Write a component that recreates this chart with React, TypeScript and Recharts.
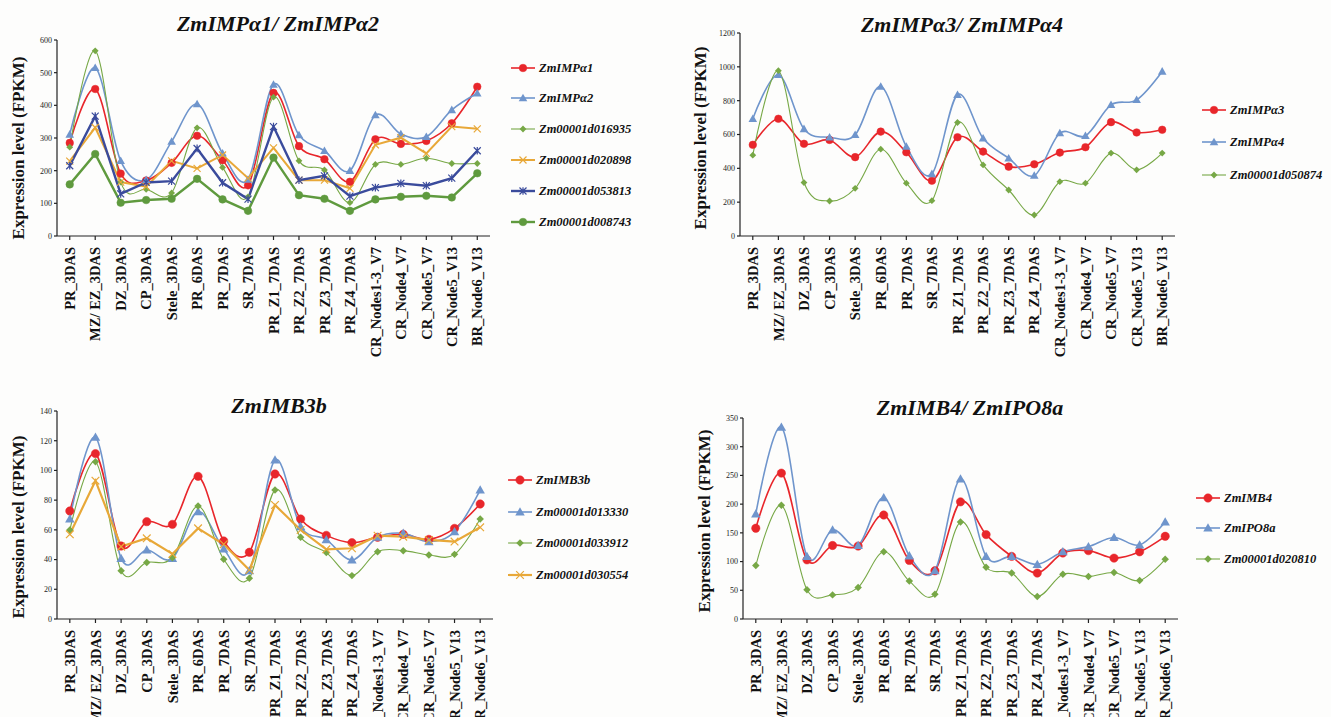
import React from "react";
import { CartesianGrid, Line, LineChart, XAxis, YAxis } from "recharts";

const CATEGORIES = [
  "PR_3DAS",
  "MZ/ EZ_3DAS",
  "DZ_3DAS",
  "CP_3DAS",
  "Stele_3DAS",
  "PR_6DAS",
  "PR_7DAS",
  "SR_7DAS",
  "PR_Z1_7DAS",
  "PR_Z2_7DAS",
  "PR_Z3_7DAS",
  "PR_Z4_7DAS",
  "CR_Nodes1-3_V7",
  "CR_Node4_V7",
  "CR_Node5_V7",
  "CR_Node5_V13",
  "BR_Node6_V13",
];

// panel 1
const zmIMPa1 = [285, 450, 191, 170, 224, 307, 232, 155, 438, 275, 235, 166, 296, 282, 291, 345, 457];
const zmIMPa2 = [311, 515, 230, 172, 289, 404, 253, 173, 464, 309, 261, 200, 370, 312, 304, 386, 437];
const zm016935 = [272, 567, 165, 143, 132, 331, 210, 120, 425, 230, 202, 102, 219, 219, 238, 222, 222];
const zm020898 = [229, 332, 165, 151, 230, 207, 248, 177, 270, 171, 171, 146, 279, 301, 253, 335, 328];
const zm053813 = [215, 367, 129, 164, 168, 268, 163, 113, 335, 171, 184, 122, 148, 161, 154, 177, 261];
const zm008743 = [158, 251, 102, 110, 114, 175, 112, 77, 240, 125, 114, 77, 112, 120, 123, 118, 192];

// panel 2
const zmIMPa3 = [539, 693, 545, 568, 466, 617, 495, 327, 584, 499, 410, 424, 493, 525, 673, 612, 628];
const zmIMPa4 = [693, 953, 633, 584, 598, 884, 529, 367, 835, 578, 460, 357, 608, 592, 775, 805, 973];
const zm050874 = [478, 977, 316, 207, 282, 513, 312, 209, 671, 420, 272, 124, 321, 312, 490, 391, 490];

// panel 3
const zmIMB3b = [72.7, 111.3, 49.1, 65.5, 63.7, 96, 52.5, 44.9, 97.6, 67.3, 56.3, 51.4, 55, 57, 53.6, 61, 77.4];
const zm013330 = [67.3, 122.3, 40.8, 46.4, 40.8, 72.3, 47.1, 32.5, 107, 62.2, 53.4, 39.7, 55, 57.7, 52, 58.8, 86.8];
const zm033912 = [59.9, 105.9, 32.5, 38.1, 41.3, 76.1, 40.2, 27.4, 86.8, 55, 44.7, 29.2, 45.3, 46, 43.1, 43.5, 67.3];
const zm030554 = [57, 93.1, 48.7, 54.3, 43.8, 61, 50.3, 33, 76.7, 59.9, 46.9, 47.6, 56.1, 55.4, 53.2, 52.1, 61.7];

// panel 4
const zmIMB4 = [158, 254, 103, 128, 127, 181, 102, 84, 204, 147, 109, 80, 115, 119, 106, 117, 144];
const zmIPO8a = [183, 334, 109, 155, 128, 211, 110, 84, 244, 109, 109, 95, 117, 126, 142, 129, 169];
const zm020810 = [93, 198, 51, 42, 55, 117, 66, 43, 169, 90, 80, 39, 78, 74, 81, 67, 104];

const TICKS_1 = [0, 100, 200, 300, 400, 500, 600];
const TICKS_2 = [0, 200, 400, 600, 800, 1000, 1200];
const TICKS_3 = [0, 20, 40, 60, 80, 100, 120, 140];
const TICKS_4 = [0, 50, 100, 150, 200, 250, 300, 350];

const RED = "#e8262b";
const BLUE = "#6f95cc";
const LGREEN = "#77a846";
const ORANGE = "#e8a838";
const NAVY = "#3a4b9c";
const DGREEN = "#5f9a3e";

const SERIF = '"Liberation Serif", "Times New Roman", serif';

// Excel-like smoothed line (cardinal spline, tension 0)
class SmoothCurve {
  _context: any;
  _line: number = NaN;
  _point = 0;
  _x0 = NaN; _x1 = NaN; _x2 = NaN;
  _y0 = NaN; _y1 = NaN; _y2 = NaN;
  constructor(context: any) {
    this._context = context;
  }
  areaStart() { this._line = 0; }
  areaEnd() { this._line = NaN; }
  lineStart() {
    this._x0 = this._x1 = this._x2 = this._y0 = this._y1 = this._y2 = NaN;
    this._point = 0;
  }
  seg(x: number, y: number) {
    const k = 1 / 6;
    this._context.bezierCurveTo(
      this._x1 + k * (this._x2 - this._x0),
      this._y1 + k * (this._y2 - this._y0),
      this._x2 + k * (this._x1 - x),
      this._y2 + k * (this._y1 - y),
      this._x2,
      this._y2
    );
  }
  lineEnd() {
    if (this._point === 2) this._context.lineTo(this._x2, this._y2);
    else if (this._point === 3) this.seg(this._x1, this._y1);
    if (this._line || (this._line !== 0 && this._point === 1)) this._context.closePath();
    this._line = 1 - this._line;
  }
  point(x: number, y: number) {
    x = +x; y = +y;
    switch (this._point) {
      case 0:
        this._point = 1;
        if (this._line) this._context.lineTo(x, y);
        else this._context.moveTo(x, y);
        break;
      case 1:
        this._point = 2;
        this._x1 = x; this._y1 = y;
        break;
      case 2:
        this._point = 3;
        this.seg(x, y);
        break;
      default:
        this.seg(x, y);
        break;
    }
    this._x0 = this._x1; this._x1 = this._x2; this._x2 = x;
    this._y0 = this._y1; this._y1 = this._y2; this._y2 = y;
  }
}
const smooth = (context: any) => new SmoothCurve(context);

type Shape = "circle" | "triangle" | "diamond" | "x" | "star";

function Marker({ shape, cx, cy, color, s = 1 }: { shape: Shape; cx: number; cy: number; color: string; s?: number }) {
  if (cx == null || cy == null) return null;
  if (shape === "circle")
    return <circle cx={cx} cy={cy} r={3.8 * s} fill={color} stroke={color} strokeWidth={0.5} />;
  if (shape === "triangle") {
    const h = 4.3 * s;
    return (
      <polygon
        points={`${cx},${cy - h} ${cx + h},${cy + h * 0.75} ${cx - h},${cy + h * 0.75}`}
        fill={color}
      />
    );
  }
  if (shape === "diamond") {
    const h = 3.4 * s;
    return <polygon points={`${cx},${cy - h} ${cx + h},${cy} ${cx},${cy + h} ${cx - h},${cy}`} fill={color} />;
  }
  const h = 3.5 * s;
  if (shape === "x")
    return (
      <path d={`M${cx - h},${cy - h}L${cx + h},${cy + h}M${cx - h},${cy + h}L${cx + h},${cy - h}`} stroke={color} strokeWidth={1.2} />
    );
  return (
    <path
      d={`M${cx - h},${cy - h}L${cx + h},${cy + h}M${cx - h},${cy + h}L${cx + h},${cy - h}M${cx},${cy - h * 1.1}L${cx},${cy + h * 1.1}`}
      stroke={color}
      strokeWidth={1.2}
    />
  );
}

type SeriesDef = {
  name: string;
  values: number[];
  color: string;
  width: number;
  shape: Shape;
  smooth: boolean;
};

function RotatedTick({ x, y, payload }: any) {
  return (
    <g transform={`translate(${x},${y + 5}) rotate(-90)`}>
      <text textAnchor="end" dy="0.36em" fontFamily={SERIF} fontWeight="bold" fontSize={14.5} fill="#111">
        {payload.value}
      </text>
    </g>
  );
}

type PanelProps = {
  title: string;
  titleX: number;
  titleY: number;
  series: SeriesDef[];
  ticks: number[];
  chartLeft: number;
  chartTop: number;
  plotLeft: number;
  plotTop: number;
  plotRight: number;
  plotBottom: number;
  ylabelX: number;
  ylabelY: number;
  legendX: number;
  legendY: number[];
  markerScale: number;
};

function Panel(p: PanelProps) {
  const data = CATEGORIES.map((c, i) => {
    const row: Record<string, string | number> = { name: c };
    p.series.forEach((s, j) => {
      row["s" + j] = s.values[i];
    });
    return row;
  });
  const width = p.plotRight - p.chartLeft + 10;
  const height = p.plotBottom - p.chartTop + 155;
  const pad = (p.plotRight - p.plotLeft) / 34;
  const max = p.ticks[p.ticks.length - 1];

  return (
    <>
      <div
        style={{
          position: "absolute",
          left: p.titleX,
          top: p.titleY,
          transform: "translate(-50%, -50%)",
          fontFamily: SERIF,
          fontWeight: "bold",
          fontStyle: "italic",
          fontSize: 22,
          whiteSpace: "nowrap",
          color: "#111",
        }}
      >
        {p.title}
      </div>
      <div
        style={{
          position: "absolute",
          left: p.ylabelX,
          top: p.ylabelY,
          transform: "translate(-50%, -50%) rotate(-90deg)",
          fontFamily: SERIF,
          fontWeight: "bold",
          fontSize: 17,
          whiteSpace: "nowrap",
          color: "#111",
        }}
      >
        Expression level (FPKM)
      </div>
      <div style={{ position: "absolute", left: p.chartLeft, top: p.chartTop }}>
        <LineChart
          width={width}
          height={height}
          data={data}
          margin={{ top: p.plotTop - p.chartTop, right: 10, left: 0, bottom: 5 }}
        >
          <CartesianGrid horizontal={false} vertical={false} />
          <XAxis
            dataKey="name"
            scale="point"
            padding={{ left: pad, right: pad }}
            interval={0}
            height={150}
            tick={<RotatedTick />}
            tickSize={4}
            axisLine={{ stroke: "#222", strokeWidth: 1.2 }}
            tickLine={{ stroke: "#222", strokeWidth: 1.2 }}
          />
          <YAxis
            width={p.plotLeft - p.chartLeft}
            domain={[0, max]}
            ticks={p.ticks}
            interval={0}
            tickSize={3}
            tick={{ fontSize: 8, fontFamily: SERIF, fill: "#222" }}
            axisLine={{ stroke: "#222", strokeWidth: 1.2 }}
            tickLine={{ stroke: "#222", strokeWidth: 1.2 }}
          />
          {p.series.map((s, j) => (
            <Line
              key={s.name}
              dataKey={"s" + j}
              type={s.smooth ? (smooth as any) : "linear"}
              stroke={s.color}
              strokeWidth={s.width}
              isAnimationActive={false}
              activeDot={false}
              dot={(d: any) => (
                <Marker key={d.index} shape={s.shape} cx={d.cx} cy={d.cy} color={s.color} s={p.markerScale} />
              )}
            />
          ))}
        </LineChart>
      </div>
      {p.series.map((s, j) => (
        <div
          key={s.name}
          style={{
            position: "absolute",
            left: p.legendX,
            top: p.legendY[j] - 9,
            height: 18,
            display: "flex",
            alignItems: "center",
            whiteSpace: "nowrap",
          }}
        >
          <svg width={24} height={18} style={{ display: "block" }}>
            <line x1={0} y1={9} x2={24} y2={9} stroke={s.color} strokeWidth={s.width} />
            <Marker shape={s.shape} cx={12} cy={9} color={s.color} s={p.markerScale} />
          </svg>
          <span
            style={{
              marginLeft: 4,
              fontFamily: SERIF,
              fontWeight: "bold",
              fontStyle: "italic",
              fontSize: 12.5,
              color: "#111",
            }}
          >
            {s.name}
          </span>
        </div>
      ))}
    </>
  );
}

const SERIES_1: SeriesDef[] = [
  { name: "ZmIMPα1", values: zmIMPa1, color: RED, width: 1.6, shape: "circle", smooth: true },
  { name: "ZmIMPα2", values: zmIMPa2, color: BLUE, width: 1.6, shape: "triangle", smooth: true },
  { name: "Zm00001d016935", values: zm016935, color: LGREEN, width: 1.1, shape: "diamond", smooth: true },
  { name: "Zm00001d020898", values: zm020898, color: ORANGE, width: 2, shape: "x", smooth: false },
  { name: "Zm00001d053813", values: zm053813, color: NAVY, width: 2.4, shape: "star", smooth: false },
  { name: "Zm00001d008743", values: zm008743, color: DGREEN, width: 2.4, shape: "circle", smooth: false },
];

const SERIES_2: SeriesDef[] = [
  { name: "ZmIMPα3", values: zmIMPa3, color: RED, width: 1.6, shape: "circle", smooth: true },
  { name: "ZmIMPα4", values: zmIMPa4, color: BLUE, width: 1.6, shape: "triangle", smooth: true },
  { name: "Zm00001d050874", values: zm050874, color: LGREEN, width: 1.1, shape: "diamond", smooth: true },
];

const SERIES_3: SeriesDef[] = [
  { name: "ZmIMB3b", values: zmIMB3b, color: RED, width: 1.6, shape: "circle", smooth: true },
  { name: "Zm00001d013330", values: zm013330, color: BLUE, width: 1.6, shape: "triangle", smooth: true },
  { name: "Zm00001d033912", values: zm033912, color: LGREEN, width: 1.1, shape: "diamond", smooth: true },
  { name: "Zm00001d030554", values: zm030554, color: ORANGE, width: 2.2, shape: "x", smooth: false },
];

const SERIES_4: SeriesDef[] = [
  { name: "ZmIMB4", values: zmIMB4, color: RED, width: 1.6, shape: "circle", smooth: true },
  { name: "ZmIPO8a", values: zmIPO8a, color: BLUE, width: 1.6, shape: "triangle", smooth: true },
  { name: "Zm00001d020810", values: zm020810, color: LGREEN, width: 1.1, shape: "diamond", smooth: true },
];

export default function App() {
  return (
    <div
      style={{
        position: "absolute",
        left: 0,
        top: 0,
        width: 1331,
        height: 717,
        overflow: "hidden",
        background: "#fdfdfc",
      }}
    >
      <Panel
        title="ZmIMPα1/ ZmIMPα2"
        titleX={278}
        titleY={24}
        series={SERIES_1}
        ticks={TICKS_1}
        chartLeft={0}
        chartTop={30}
        plotLeft={57}
        plotTop={40}
        plotRight={490}
        plotBottom={236}
        ylabelX={19}
        ylabelY={148}
        legendX={511}
        legendY={[68, 98, 129, 160, 191, 222]}
        markerScale={1}
      />
      <Panel
        title="ZmIMPα3/ ZmIMPα4"
        titleX={962}
        titleY={25}
        series={SERIES_2}
        ticks={TICKS_2}
        chartLeft={680}
        chartTop={23}
        plotLeft={740}
        plotTop={33}
        plotRight={1175}
        plotBottom={236}
        ylabelX={701}
        ylabelY={138}
        legendX={1202}
        legendY={[110, 142, 175]}
        markerScale={1}
      />
      <Panel
        title="ZmIMB3b"
        titleX={279}
        titleY={406}
        series={SERIES_3}
        ticks={TICKS_3}
        chartLeft={0}
        chartTop={401}
        plotLeft={57}
        plotTop={411}
        plotRight={493}
        plotBottom={619}
        ylabelX={19}
        ylabelY={527}
        legendX={508}
        legendY={[480, 512, 543, 575]}
        markerScale={1.1}
      />
      <Panel
        title="ZmIMB4/ ZmIPO8a"
        titleX={970}
        titleY={408}
        series={SERIES_4}
        ticks={TICKS_4}
        chartLeft={680}
        chartTop={408}
        plotLeft={743}
        plotTop={418}
        plotRight={1178}
        plotBottom={619}
        ylabelX={705}
        ylabelY={521}
        legendX={1196}
        legendY={[498, 528, 559]}
        markerScale={1.1}
      />
    </div>
  );
}
